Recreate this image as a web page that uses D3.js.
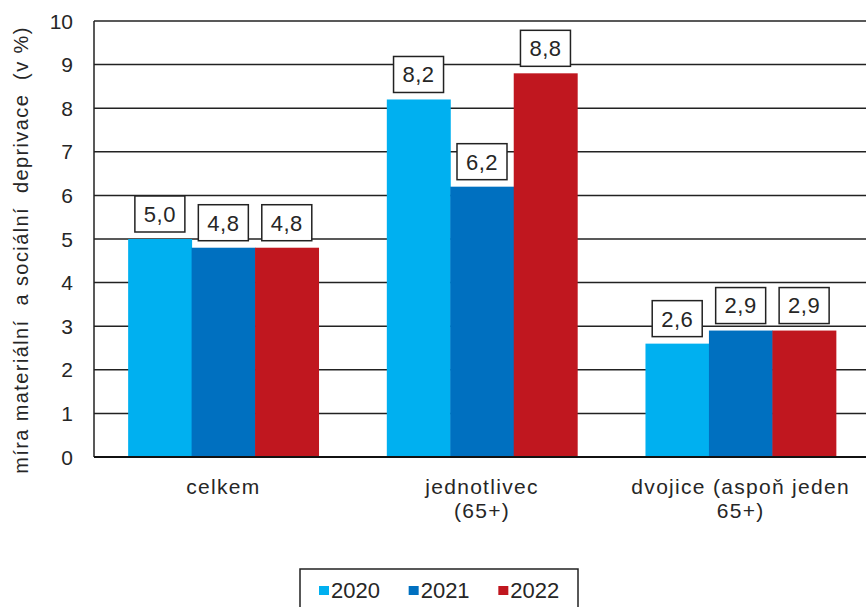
<!DOCTYPE html>
<html lang="cs">
<head>
<meta charset="UTF-8">
<title>Míra materiální a sociální deprivace</title>
<script src="https://d3js.org/d3.v7.min.js"></script>
<style>
  body { margin: 0; background: #fff; }
  svg { display: block; font-family: Arial, "Liberation Sans", sans-serif; }
  text { fill: #262626; }
</style>
</head>
<body>
<div id="chart"></div>
<script>
// data
const categories = [["celkem"], ["jednotlivec", "(65+)"], ["dvojice (aspoň jeden", "65+)"]];
const years = ["2020", "2021", "2022"];
const values2020 = [5.0, 8.2, 2.6];
const values2021 = [4.8, 6.2, 2.9];
const values2022 = [4.8, 8.8, 2.9];
const yTicks = [0, 1, 2, 3, 4, 5, 6, 7, 8, 9, 10];
const colors = ["#00b0f0", "#0070c0", "#c0171f"];

const series = [values2020, values2021, values2022];
const width = 866, height = 607;
const plotLeft = 94, plotRight = 870, plotTop = 21, plotBottom = 457;

const svg = d3.select("#chart").append("svg")
  .attr("width", width)
  .attr("height", height);

const y = d3.scaleLinear().domain([0, 10]).range([plotBottom, plotTop]);

const x0 = d3.scaleBand()
  .domain(d3.range(categories.length))
  .range([plotLeft, plotRight])
  .paddingInner(0.264)
  .paddingOuter(0.132);

const x1 = d3.scaleBand()
  .domain(years)
  .range([0, x0.bandwidth()]);

const fmt = v => d3.format(".1f")(v).replace(".", ",");

// gridlines
svg.append("g")
  .selectAll("line")
  .data(yTicks.filter(t => t > 0))
  .join("line")
  .attr("x1", plotLeft)
  .attr("x2", width)
  .attr("y1", d => y(d))
  .attr("y2", d => y(d))
  .attr("stroke", "#222")
  .attr("stroke-width", 1.5);

// tick labels
svg.append("g")
  .selectAll("text")
  .data(yTicks)
  .join("text")
  .attr("x", 73)
  .attr("y", d => y(d))
  .attr("dy", "0.36em")
  .attr("text-anchor", "end")
  .style("font-size", "21px")
  .text(d => d);

// bars
const groups = svg.append("g")
  .selectAll("g")
  .data(categories.map((c, i) => i))
  .join("g")
  .attr("transform", i => `translate(${x0(i)},0)`);

groups.selectAll("rect")
  .data(i => years.map((yr, k) => ({ yr, k, v: series[k][i] })))
  .join("rect")
  .attr("x", d => x1(d.yr))
  .attr("width", x1.bandwidth() + 0.5)
  .attr("y", d => y(d.v))
  .attr("height", d => y(0) - y(d.v))
  .attr("fill", d => colors[d.k]);

// value label boxes
const boxW = 50, boxH = 36, gap = 7;
const lab = groups.selectAll("g.lab")
  .data(i => years.map((yr, k) => ({ yr, k, v: series[k][i] })))
  .join("g")
  .attr("class", "lab")
  .attr("transform", d => `translate(${x1(d.yr) + x1.bandwidth() / 2},${y(d.v) - gap})`);

lab.append("rect")
  .attr("x", -boxW / 2)
  .attr("y", -boxH)
  .attr("width", boxW)
  .attr("height", boxH)
  .attr("fill", "#fff")
  .attr("stroke", "#222")
  .attr("stroke-width", 1.5);

lab.append("text")
  .attr("y", -boxH / 2)
  .attr("dy", "0.36em")
  .attr("text-anchor", "middle")
  .style("font-size", "22px")
  .style("letter-spacing", "0.5px")
  .text(d => fmt(d.v));

// axes lines
svg.append("line")
  .attr("x1", plotLeft).attr("x2", plotLeft)
  .attr("y1", plotTop).attr("y2", plotBottom)
  .attr("stroke", "#222").attr("stroke-width", 1.5);
svg.append("line")
  .attr("x1", plotLeft).attr("x2", width)
  .attr("y1", plotBottom).attr("y2", plotBottom)
  .attr("stroke", "#111").attr("stroke-width", 2);

// category labels
const catText = svg.append("g")
  .selectAll("text")
  .data(categories)
  .join("text")
  .attr("text-anchor", "middle")
  .attr("transform", (d, i) => `translate(${x0(i) + x0.bandwidth() / 2},494)`)
  .style("font-size", "21px")
  .style("letter-spacing", "1.3px");
catText.selectAll("tspan")
  .data(d => d)
  .join("tspan")
  .attr("x", 0)
  .attr("y", (d, i) => i * 24)
  .text(d => d);

// y title
svg.append("text")
  .attr("transform", "translate(28,250) rotate(-90)")
  .attr("text-anchor", "middle")
  .style("font-size", "20px")
  .style("letter-spacing", "1.4px")
  .style("white-space", "pre")
  .text("míra materiální  a sociální  deprivace  (v %)");

// legend
const legX = d3.scaleBand().domain(years).range([319, 588]);
const leg = svg.append("g");
leg.append("rect")
  .attr("x", 300).attr("y", 569)
  .attr("width", 278).attr("height", 45)
  .attr("fill", "#fff")
  .attr("stroke", "#222").attr("stroke-width", 1.5);
const li = leg.selectAll("g")
  .data(years)
  .join("g")
  .attr("transform", d => `translate(${legX(d)},0)`);
li.append("rect")
  .attr("x", 0).attr("y", 586)
  .attr("width", 10).attr("height", 9)
  .attr("fill", (d, i) => colors[i]);
li.append("text")
  .attr("x", 12).attr("y", 598)
  .style("font-size", "22px")
  .text(d => d);
</script>
</body>
</html>
